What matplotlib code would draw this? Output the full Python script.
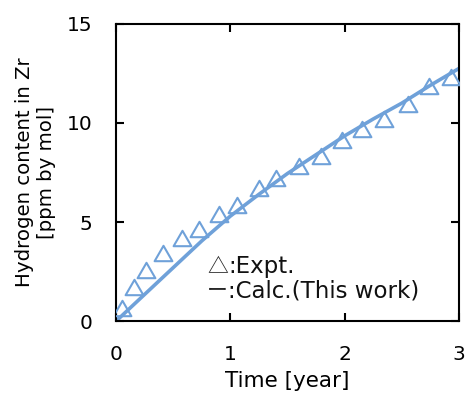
import matplotlib.pyplot as plt
from matplotlib.path import Path

# experimental points (time [year], H content [ppm by mol])
expt_t = [0.05, 0.16, 0.26, 0.41, 0.58, 0.73, 0.90, 1.06, 1.25, 1.40,
          1.60, 1.79, 1.98, 2.15, 2.34, 2.55, 2.74, 2.93]
expt_h = [0.65, 1.73, 2.58, 3.45, 4.22, 4.63, 5.40, 5.86, 6.70, 7.20,
          7.83, 8.33, 9.14, 9.68, 10.18, 10.96, 11.87, 12.34]

# calculation (this work)
calc_t = [0, 0.25, 0.5, 0.75, 1.0, 1.25, 1.5, 1.75, 2.0, 2.25, 2.5, 2.75, 3.0]
calc_h = [0, 1.35, 2.7, 4.05, 5.3, 6.4, 7.45, 8.4, 9.35, 10.2, 11.0, 11.9, 12.75]

BLUE = '#6FA1D9'
CJK = ['Noto Sans CJK JP', 'DejaVu Sans']

# equilateral open triangle, centred on its bounding box
tri = Path([(-0.866, -0.75), (0.866, -0.75), (0, 0.75), (-0.866, -0.75)],
           closed=True)

plt.rcParams['font.family'] = ['DejaVu Sans']
fig = plt.figure(figsize=(4.66, 3.97), dpi=100)
ax = fig.add_axes([0.249, 0.191, 0.736, 0.749])

ax.plot(calc_t, calc_h, color=BLUE, lw=2.6, zorder=2)
ax.plot(expt_t, expt_h, ls='none', marker=tri, ms=12.8, mfc='none',
        mec=BLUE, mew=1.5, zorder=3)

ax.set_xlim(0, 3)
ax.set_ylim(0, 15)
ax.set_xticks([0, 1, 2, 3])
ax.set_yticks([0, 5, 10, 15])
ax.tick_params(direction='in', length=6, width=1.5, labelsize=14.5,
               top=True, right=True, pad=17)
for s in ax.spines.values():
    s.set_linewidth(1.5)

ax.set_xlabel('Time [year]', fontsize=15.5, labelpad=5)
ax.set_ylabel('Hydrogen content in Zr\n[ppm by mol]', fontsize=14.2,
              labelpad=8, linespacing=1.2)

# hand-drawn legend: full-width symbols in CJK font, rest in DejaVu
x0 = 0.265
dx = 0.062
ax.text(x0, 0.185, '\u25b3', transform=ax.transAxes, fontsize=15,
        family=CJK, ha='left', va='center', color='#222222')
ax.text(x0 + dx, 0.185, ':Expt.', transform=ax.transAxes, fontsize=16.5,
        ha='left', va='center', color='#111111')
ax.text(x0, 0.103, '\u30fc', transform=ax.transAxes, fontsize=15,
        family=CJK, ha='left', va='center', color='#222222')
ax.text(x0 + dx, 0.103, ':Calc.(This work)', transform=ax.transAxes,
        fontsize=16.5, ha='left', va='center', color='#111111')

fig.savefig('out.png', dpi=100)
